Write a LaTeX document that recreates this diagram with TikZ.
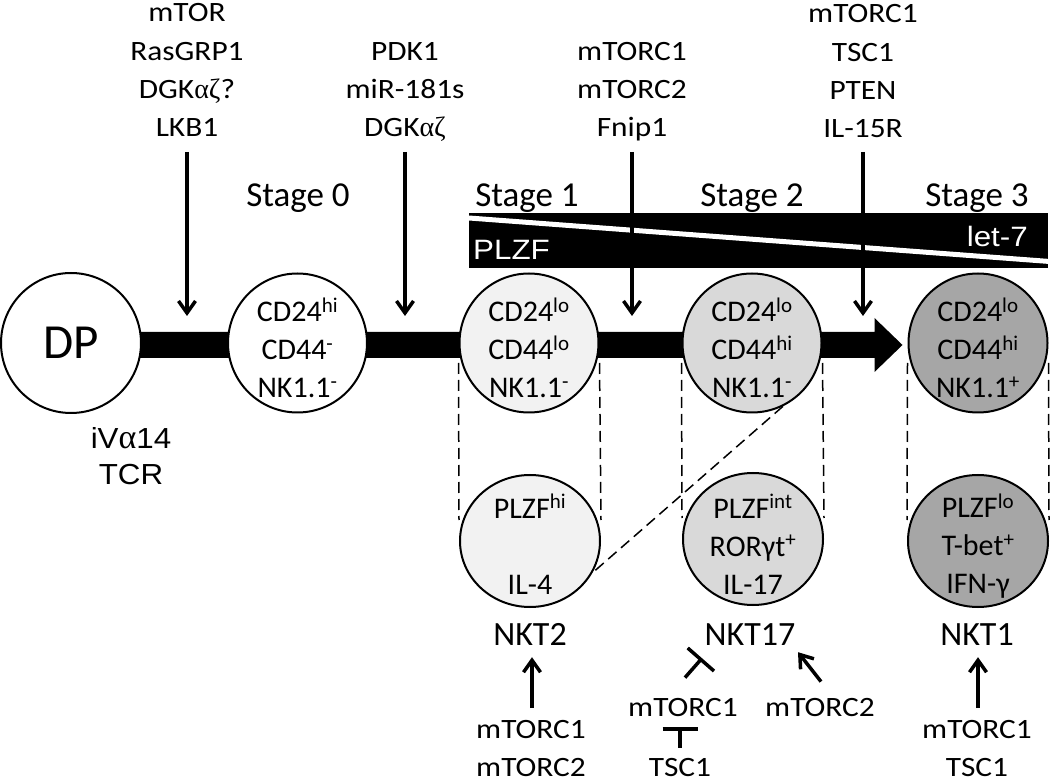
\documentclass[tikz,border=0pt]{standalone}
\usepackage{fontspec}
\setmainfont{Carlito}
\newfontfamily\arialf[FakeStretch=1.08]{Liberation Sans}
\newfontfamily\arialw[FakeStretch=1.12]{Liberation Sans}
\newfontfamily\calw[FakeStretch=1.12]{Carlito}
\newfontfamily\symf{Liberation Serif}
\usetikzlibrary{arrows.meta,backgrounds,shapes.geometric,calc}
\definecolor{g1}{HTML}{F2F2F2}
\definecolor{g2}{HTML}{D9D9D9}
\definecolor{g3}{HTML}{A6A6A6}
\newcommand{\fstrut}[1]{\rule{0pt}{#1}}
\tikzset{
  cell/.style={circle, draw=black, line width=2pt, minimum size=139pt, inner sep=-20pt,
    align=center, font=\fontsize{30}{38}\selectfont},
  lcell/.style={ellipse, draw=black, line width=2pt, minimum width=140pt, minimum height=132pt,
    inner sep=-30pt, align=center, font=\fontsize{30}{38}\selectfont},
  reg/.style={align=center, inner sep=0pt, text height=20pt, text depth=0pt,
    font=\calw\fontsize{28}{38.3}\selectfont},
  stagelbl/.style={inner sep=0pt, anchor=base, font=\fontsize{35}{40}\selectfont},
  nkt/.style={inner sep=0pt, anchor=base, font=\fontsize{34}{40}\selectfont},
  act/.style={line width=3.5pt, -{Straight Barb[length=12pt,width=17pt]}},
  inh/.style={line width=3.5pt, -{Bar[width=35pt]}},
  guide/.style={dash pattern=on 11pt off 6pt, line width=1.5pt},
  wlabel/.style={inner sep=0pt, text=white, font=\arialw\fontsize{28}{30}\selectfont},
}
\begin{document}
\begin{tikzpicture}[x=1pt,y=-1pt]
\useasboundingbox (0,0) rectangle (1050,783);

% cells on the main line
\node[cell, fill=white, minimum size=140pt, font=\fontsize{49}{50}\selectfont] (DP) at (71,343) {DP};
\node[cell, fill=white] (S0) at (297.5,343) {\fstrut{33pt}CD24\textsuperscript{hi}\\CD44\textsuperscript{-}\\NK1.1\textsuperscript{-}};
\node[cell, fill=g1] (S1) at (529,343) {\fstrut{33pt}CD24\textsuperscript{lo}\\CD44\textsuperscript{lo}\\NK1.1\textsuperscript{-}};
\node[cell, fill=g2] (S2) at (752,343) {\fstrut{33pt}CD24\textsuperscript{lo}\\CD44\textsuperscript{hi}\\NK1.1\textsuperscript{-}};
\node[cell, fill=g3] (S3) at (978,343) {\fstrut{33pt}CD24\textsuperscript{lo}\\CD44\textsuperscript{hi}\\NK1.1\textsuperscript{+}};

% lower cells
\node[lcell, fill=g1] (L1) at (530,541) {\fstrut{30pt}PLZF\textsuperscript{hi}\\[38pt]IL-4};
\node[lcell, fill=g2] (L2) at (753,539) {\fstrut{34pt}PLZF\textsuperscript{int}\\RORγt\textsuperscript{+}\\IL-17};
\node[lcell, fill=g3] (L3) at (978,541) {\fstrut{34pt}PLZF\textsuperscript{lo}\\T-bet\textsuperscript{+}\\IFN-γ};

% main arrow and dashed guides
\coordinate (tip) at ($(S3.west)+(-5,2)$);
\coordinate (barstart) at (DP.center |- tip);
\begin{pgfonlayer}{background}
\fill ($(barstart)+(0,-13)$) -- ($(tip)+(-28,-13)$) -- ($(tip)+(-28,-27)$) -- (tip)
  -- ($(tip)+(-28,27)$) -- ($(tip)+(-28,13)$) -- ($(barstart)+(0,13)$) -- cycle;
\foreach \u/\l in {S1/L1,S2/L2,S3/L3}{
  \draw[guide] ($(\u.west)+(0,20)$) -- ($(\l.west)+(0,-21)$);
  \draw[guide] ($(\u.east)+(0,20)$) -- ($(\l.east)+(0,-21)$);
}
\draw[guide] (S2.-64) -- (L1.-27);
\end{pgfonlayer}

% DP label
\node[inner sep=0pt, align=center, text depth=0pt, anchor=south,
  font=\arialf\fontsize{29}{36}\selectfont] (tcr) at (131,485) {iV{\symf\fontsize{34}{36}\selectfont α}14\\TCR};

% stage labels
\node[stagelbl] (st0) at (298,207) {Stage 0};
\node[stagelbl] (st1) at (527,207) {Stage 1};
\node[stagelbl] (st2) at (752,207) {Stage 2};
\node[stagelbl] (st3) at (977,207) {Stage 3};

% PLZF / let-7 gradient bar
\node[fill=black, minimum width=579pt, minimum height=55pt, inner sep=0pt, anchor=north west] (plzfbar) at (469,213) {};
\draw[white, line width=5pt] ($(plzfbar.north west)+(0,5)$) -- ($(plzfbar.south east)+(0,-7)$);
\node[wlabel, anchor=base west] (plzf) at (473,260) {PLZF};
\node[wlabel, anchor=base east] (let7) at (1028,247) {let-7};

% regulators at the top
\node[reg, anchor=south] (r1) at (187,137) {mTOR\\RasGRP1\\DGK{\symf αζ}?\\LKB1};
\node[reg, anchor=south] (r2) at (405,137) {PDK1\\miR-181s\\DGK{\symf αζ}};
\node[reg, anchor=south] (r3) at (632,137) {mTORC1\\mTORC2\\Fnip1};
\node[reg, anchor=south] (r4) at (863,138) {mTORC1\\TSC1\\PTEN\\IL-15R};
\coordinate (p1) at (187,316);
\coordinate (p2) at (405,316);
\coordinate (p3) at (632,316);
\coordinate (p4) at (863,316);
\draw[act] ($(r1.south)+(0,15)$) -- (p1);
\draw[act] ($(r2.south)+(0,15)$) -- (p2);
\draw[act] ($(r3.south)+(0,15)$) -- (p3);
\draw[act] ($(r4.south)+(0,14)$) -- (p4);

% subset names
\node[nkt] (nkt2) at (530,645) {NKT2};
\node[nkt] (nkt17) at (750,645) {NKT17};
\node[nkt] (nkt1) at (977,645) {NKT1};

% regulators at the bottom
\node[reg, anchor=south] (b1) at (531,777) {mTORC1\\mTORC2};
\node[reg, anchor=south] (b2) at (683,717) {mTORC1};
\node[reg, anchor=south] (b3) at (680,777) {TSC1};
\node[reg, anchor=south] (b4) at (820,717) {mTORC2};
\node[reg, anchor=south] (b5) at (977,777) {mTORC1\\TSC1};

\draw[act] ($(b1.south)+(1,-69)$) -- ($(nkt2.south)+(2,12)$);
\draw[act] ($(b5.south)+(1,-69)$) -- ($(nkt1.south)+(1,12)$);
\draw[act] ($(b4.north)+(1,-15)$) -- ($(nkt17.south)+(48,7)$);
\draw[inh] ($(b2.north)+(2,-19)$) -- ($(nkt17.south)+(-48,13)$);
\draw[inh] ($(b3.north)+(0,-9)$) -- ($(b2.south -| b3.north)+(0,10)$);
\end{tikzpicture}
\end{document}
